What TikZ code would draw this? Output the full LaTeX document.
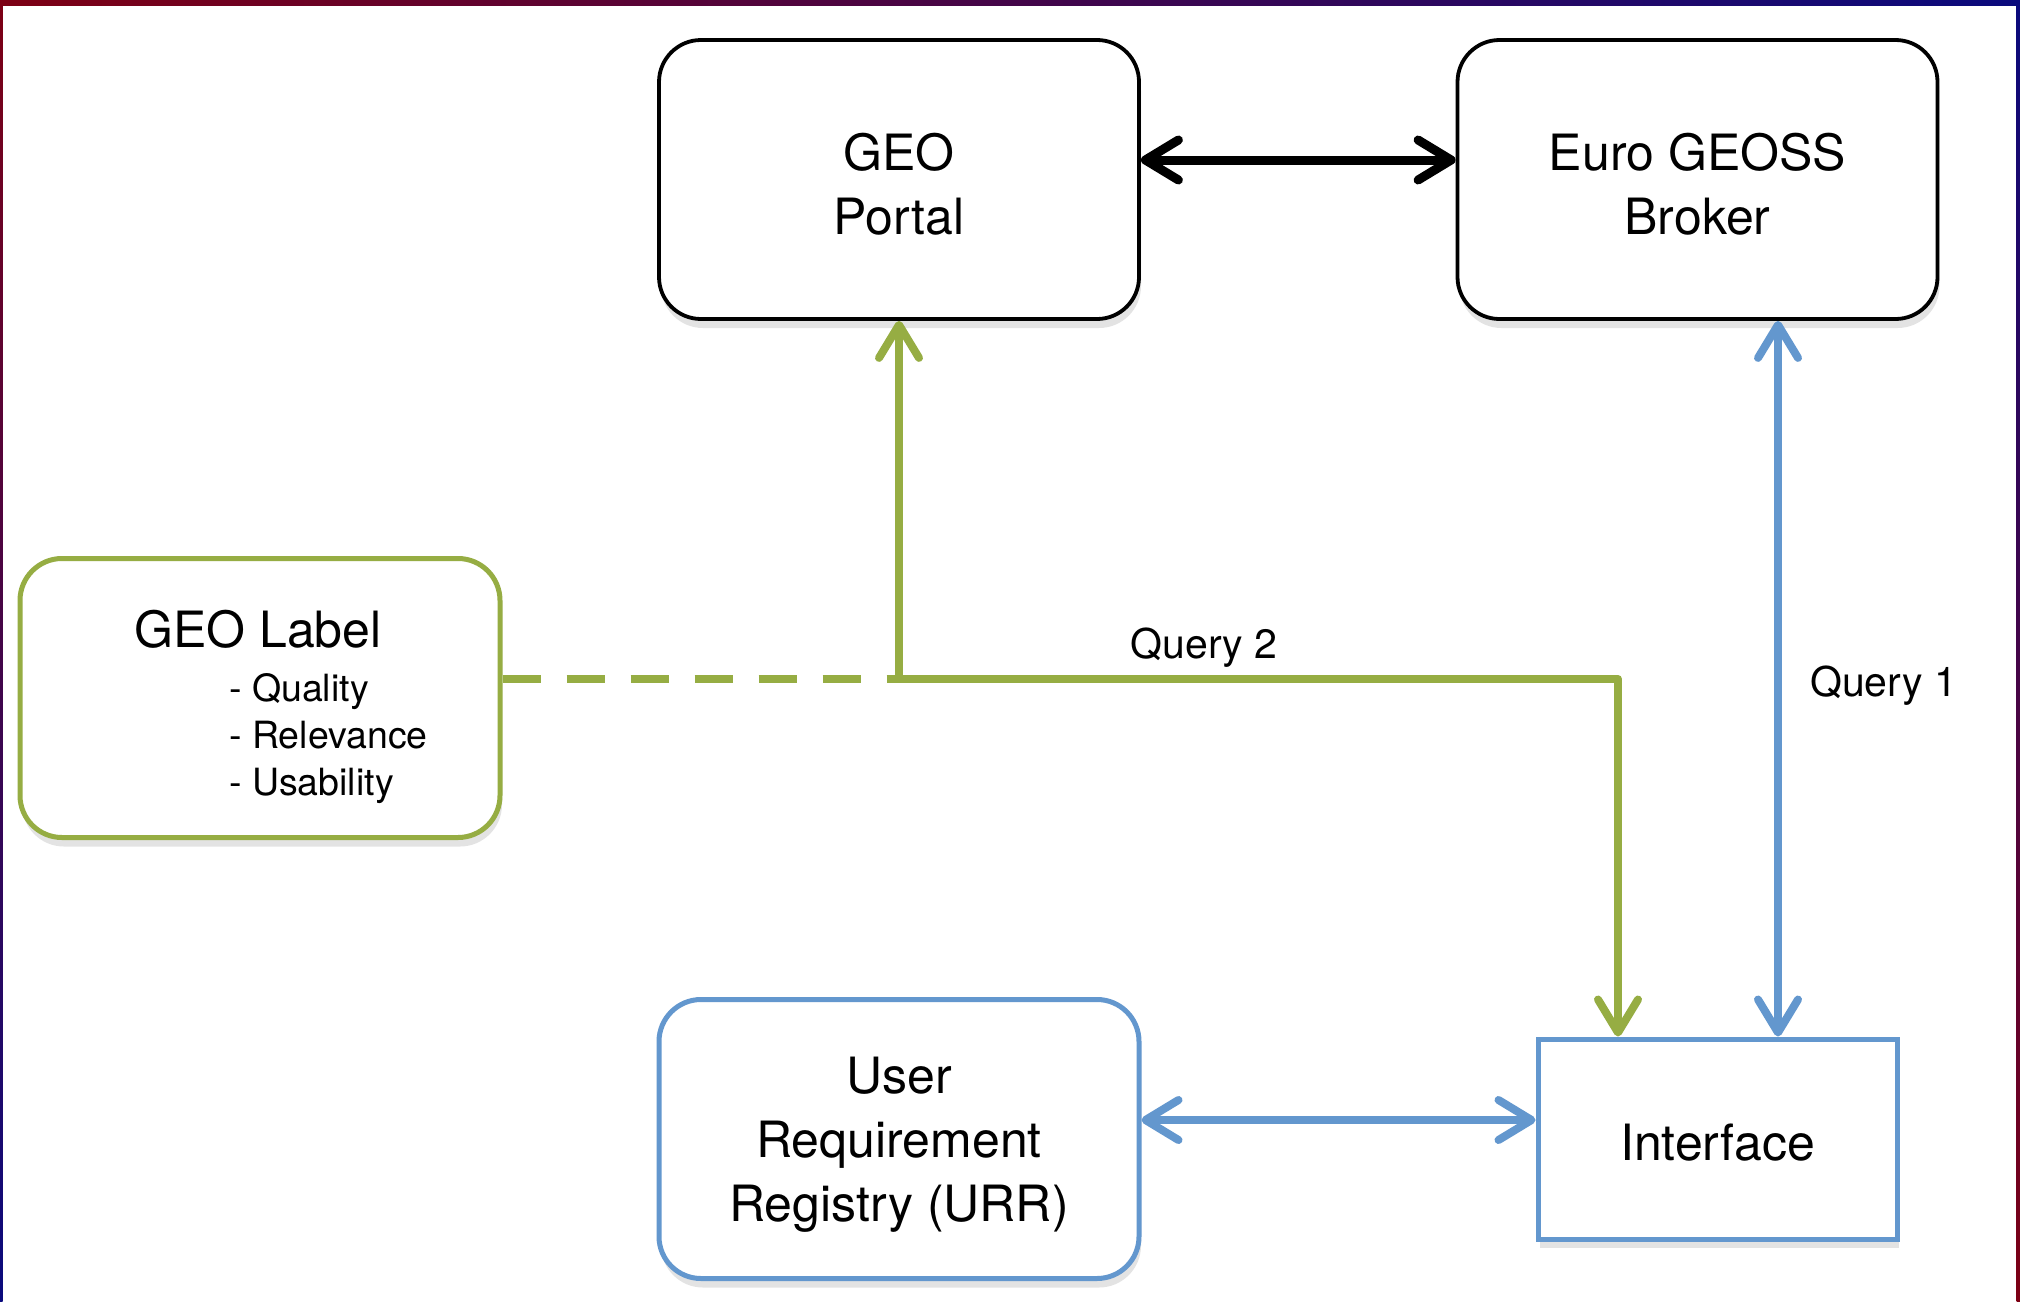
\documentclass[tikz,border=0pt]{standalone}
\usepackage{fontspec}
\setmainfont{TeX Gyre Heros}
\usetikzlibrary{arrows.meta,shadows,calc}
\definecolor{gcol}{RGB}{150,173,67}
\definecolor{bcol}{RGB}{99,151,206}
\definecolor{fred}{RGB}{125,0,20}
\definecolor{fnavy}{RGB}{10,10,125}
\begin{document}
\begin{tikzpicture}[x=1pt,y=-1pt,
  >={Straight Barb[length=33pt,width=40pt,round]},
  boxshadow/.style={drop shadow={shadow xshift=2pt,shadow yshift=-9pt,opacity=0.22}},
  rbox/.style={draw,fill=white,rounded corners=42pt,inner sep=0pt,
    minimum width=480pt,minimum height=279pt,boxshadow},
  blackbox/.style={rbox,draw=black,line width=3.8pt},
  greenbox/.style={rbox,draw=gcol,line width=5pt},
  bluebox/.style={rbox,draw=bcol,line width=5pt},
  plainbox/.style={draw=bcol,line width=5pt,fill=white,inner sep=0pt,
    minimum width=359pt,minimum height=200pt,boxshadow},
  boxtext/.style={align=center,inner sep=0pt,font=\fontsize{50}{64}\selectfont},
  blackline/.style={draw=black,line width=9pt},
  greenline/.style={draw=gcol,line width=8pt},
  blueline/.style={draw=bcol,line width=8pt},
  qlabel/.style={font=\fontsize{41}{49}\selectfont,inner sep=0pt},
  sublabel/.style={font=\fontsize{37.5}{47}\selectfont,inner sep=0pt,anchor=base west}
]
\useasboundingbox (0,0) rectangle (2020,1301);
\fill[white] (0,0) rectangle (2020,1301);
% frame
\shade[left color=fred,right color=fnavy] (0,0) rectangle (2020,5);
\shade[top color=fred,bottom color=fnavy] (0,0) rectangle (2.5,1301);
\shade[top color=fnavy,bottom color=fred] (2016.5,0) rectangle (2020,1301);

% boxes
\node[blackbox] (portal) at (899,179.5) {};
\node[blackbox] (broker) at (1697.5,179.5) {};
\node[greenbox] (label) at (260,698) {};
\node[bluebox] (urr) at (899,1139) {};
\node[plainbox] (iface) at (1717.5,1139) {};

% box texts
\node[boxtext] (portaltxt) at (899,184) {GEO\\Portal};
\node[boxtext] (brokertxt) at (1697.5,184) {Euro GEOSS\\Broker};
\node[boxtext] (urrtxt) at (899,1145) {User\\Requirement\\Registry (URR)};
\node[boxtext] (ifacetxt) at (1717.5,1143) {Interface};

% GEO Label texts
\node[font=\fontsize{50}{60}\selectfont,inner sep=0pt,anchor=base west] (ltitle) at (134,647) {GEO Label};
\node[sublabel] (l1) at (229,701) {- Quality};
\node[sublabel] (l2) at (229,748) {- Relevance};
\node[sublabel] (l3) at (229,795) {- Usability};

% helper coordinates
\coordinate (j) at (899,679);
\coordinate (cg) at (1618,679);
\coordinate (bq) at (1778,0);

% connectors
\draw[blackline,<->] (portal.east |- 0,160) -- (broker.west |- 0,160);
\draw[greenline,->] (j) -- (portal.south);
\draw[greenline,dash pattern=on 38pt off 26pt] (label.east |- j) -- (j);
\draw[greenline,->,line join=round] (j) -- (cg) -- (cg |- iface.north);
\draw[blueline,<->] (bq |- broker.south) -- (bq |- iface.north);
\draw[blueline,<->] (urr.east |- 0,1120) -- (iface.west |- 0,1120);

% labels
\node[qlabel] (q2) at (1204,648) {Query 2};
\node[qlabel,anchor=west] (q1) at (1810,686) {Query 1};
\end{tikzpicture}
\end{document}
